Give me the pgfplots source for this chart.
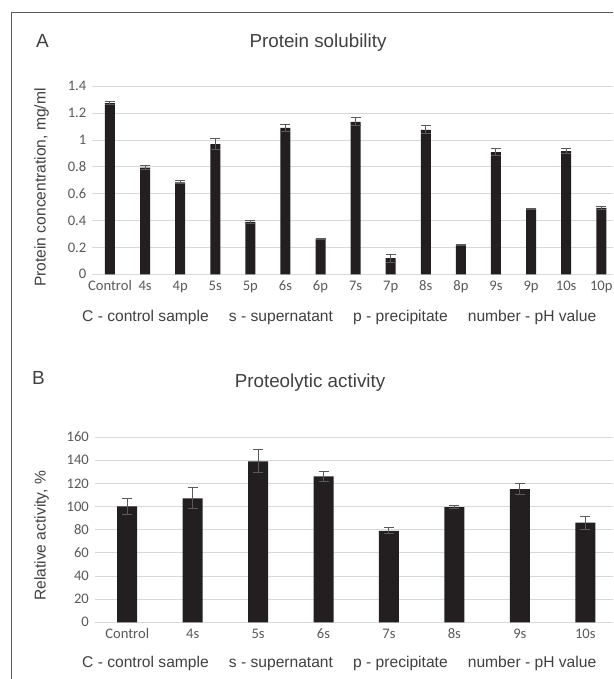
\documentclass[border=0pt]{standalone}
\usepackage{pgfplots}
\usepackage{pgfplotstable}
\pgfplotsset{compat=1.18}
\usepackage{fontspec}
\setmainfont{Liberation Sans}
\newfontfamily\calibri{Carlito}
\definecolor{barc}{HTML}{231F20}
\definecolor{errc}{HTML}{5A5A5A}
\definecolor{gridc}{HTML}{D9D9D9}
\definecolor{tickc}{HTML}{595959}
\definecolor{txtc}{HTML}{404040}
\definecolor{framec}{HTML}{5A5A5A}

\pgfplotstableread{
x y e
0 1.275 0.010
1 0.795 0.015
2 0.685 0.012
3 0.970 0.040
4 0.390 0.010
5 1.090 0.025
6 0.262 0.006
7 1.135 0.030
8 0.120 0.030
9 1.075 0.030
10 0.218 0.004
11 0.910 0.025
12 0.485 0.006
13 0.918 0.022
14 0.495 0.013
}\solubility

\pgfplotstableread{
x y e
0 100 6.5
1 107 9
2 139 10
3 126 4.5
4 79 2.5
5 99.5 1.3
6 115 5
7 86 5.5
}\activity

\pgfplotsset{
  common/.style={
    scale only axis,
    anchor=south west,
    axis line style={draw=none},
    tick style={draw=none},
    major tick length=0pt,
    ymajorgrids,
    grid style={draw=gridc, line width=0.9pt},
    tick label style={font=\calibri\fontsize{14.6}{16}\selectfont, text=tickc},
    /pgf/number format/assume math mode=true,
    yticklabel style={anchor=east, inner sep=0pt, xshift=-6pt},
    xticklabel style={anchor=base, inner sep=0pt, yshift=-16.2pt},
    xtick={0,...,14},
    clip=false,
  },
}

\begin{document}
\begin{tikzpicture}[x=1pt,y=1pt]
\path (0,0) rectangle (613,-679);
\draw[framec, line width=1pt] (11,-679) -- (11,-12.3) -- (613,-12.3);

% Panel A
\node[anchor=base west, inner sep=0pt, text=txtc, font=\fontsize{19}{22}\selectfont] at (36,-48) {A};
\node[anchor=base, inner sep=0pt, text=txtc, font=\fontsize{18.8}{22}\selectfont] at (318,-47.5) {Protein solubility};
\begin{axis}[common,
  at={(92.45pt,-274.3pt)},
  width=520.55pt, height=188pt,
  xmin=-0.5, xmax=14.335,
  ymin=0, ymax=1.4,
  ytick={0,0.2,0.4,0.6,0.8,1,1.2,1.4},
  yticklabels={0,0.2,0.4,0.6,0.8,1,1.2,1.4},
  xticklabels={Control,4s,4p,5s,5p,6s,6p,7s,7p,8s,8p,9s,9p,10s,10p},
]
\addplot[ybar, bar width=10pt, fill=barc, draw=none,
  error bars/.cd, y dir=both, y explicit,
  error bar style={draw=errc, line width=1pt},
  error mark options={rotate=90, mark size=5pt, draw=errc, line width=1pt}]
  table[x=x, y=y, y error=e] {\solubility};
\end{axis}
\node[anchor=base, rotate=90, inner sep=0pt, text=txtc, font=\fontsize{15.6}{18}\selectfont] at (45.5,-187.5) {Protein concentration, mg/ml};
\node[anchor=base west, inner sep=0pt, text=txtc, font=\fontsize{15.6}{18}\selectfont] at (82,-321.7) {C - control sample\hspace{20.2pt}s - supernatant\hspace{20.2pt}p - precipitate\hspace{20.2pt}number - pH value};

% Panel B
\node[anchor=base west, inner sep=0pt, text=txtc, font=\fontsize{19}{22}\selectfont] at (32,-384) {B};
\node[anchor=base, inner sep=0pt, text=txtc, font=\fontsize{18.8}{22}\selectfont] at (310,-387.7) {Proteolytic activity};
\begin{axis}[common,
  at={(94.5pt,-622.3pt)},
  width=518.5pt, height=185.3pt,
  xmin=-0.5, xmax=7.424,
  ymin=0, ymax=160,
  ytick={0,20,...,160},
  yticklabel style={xshift=0.5pt},
  xtick={0,...,7},
  xticklabels={Control,4s,5s,6s,7s,8s,9s,10s},
]
\addplot[ybar, bar width=20pt, fill=barc, draw=none,
  error bars/.cd, y dir=both, y explicit,
  error bar style={draw=errc, line width=1pt},
  error mark options={rotate=90, mark size=5pt, draw=errc, line width=1pt}]
  table[x=x, y=y, y error=e] {\activity};
\end{axis}
\node[anchor=base, rotate=90, inner sep=0pt, text=txtc, font=\fontsize{15.6}{18}\selectfont] at (45.5,-535.8) {Relative activity, \%};
\node[anchor=base west, inner sep=0pt, text=txtc, font=\fontsize{15.6}{18}\selectfont] at (82,-667.3) {C - control sample\hspace{20.2pt}s - supernatant\hspace{20.2pt}p - precipitate\hspace{20.2pt}number - pH value};

\pgfresetboundingbox
\path[use as bounding box] (0,0) rectangle (613,-679);
\end{tikzpicture}
\end{document}
